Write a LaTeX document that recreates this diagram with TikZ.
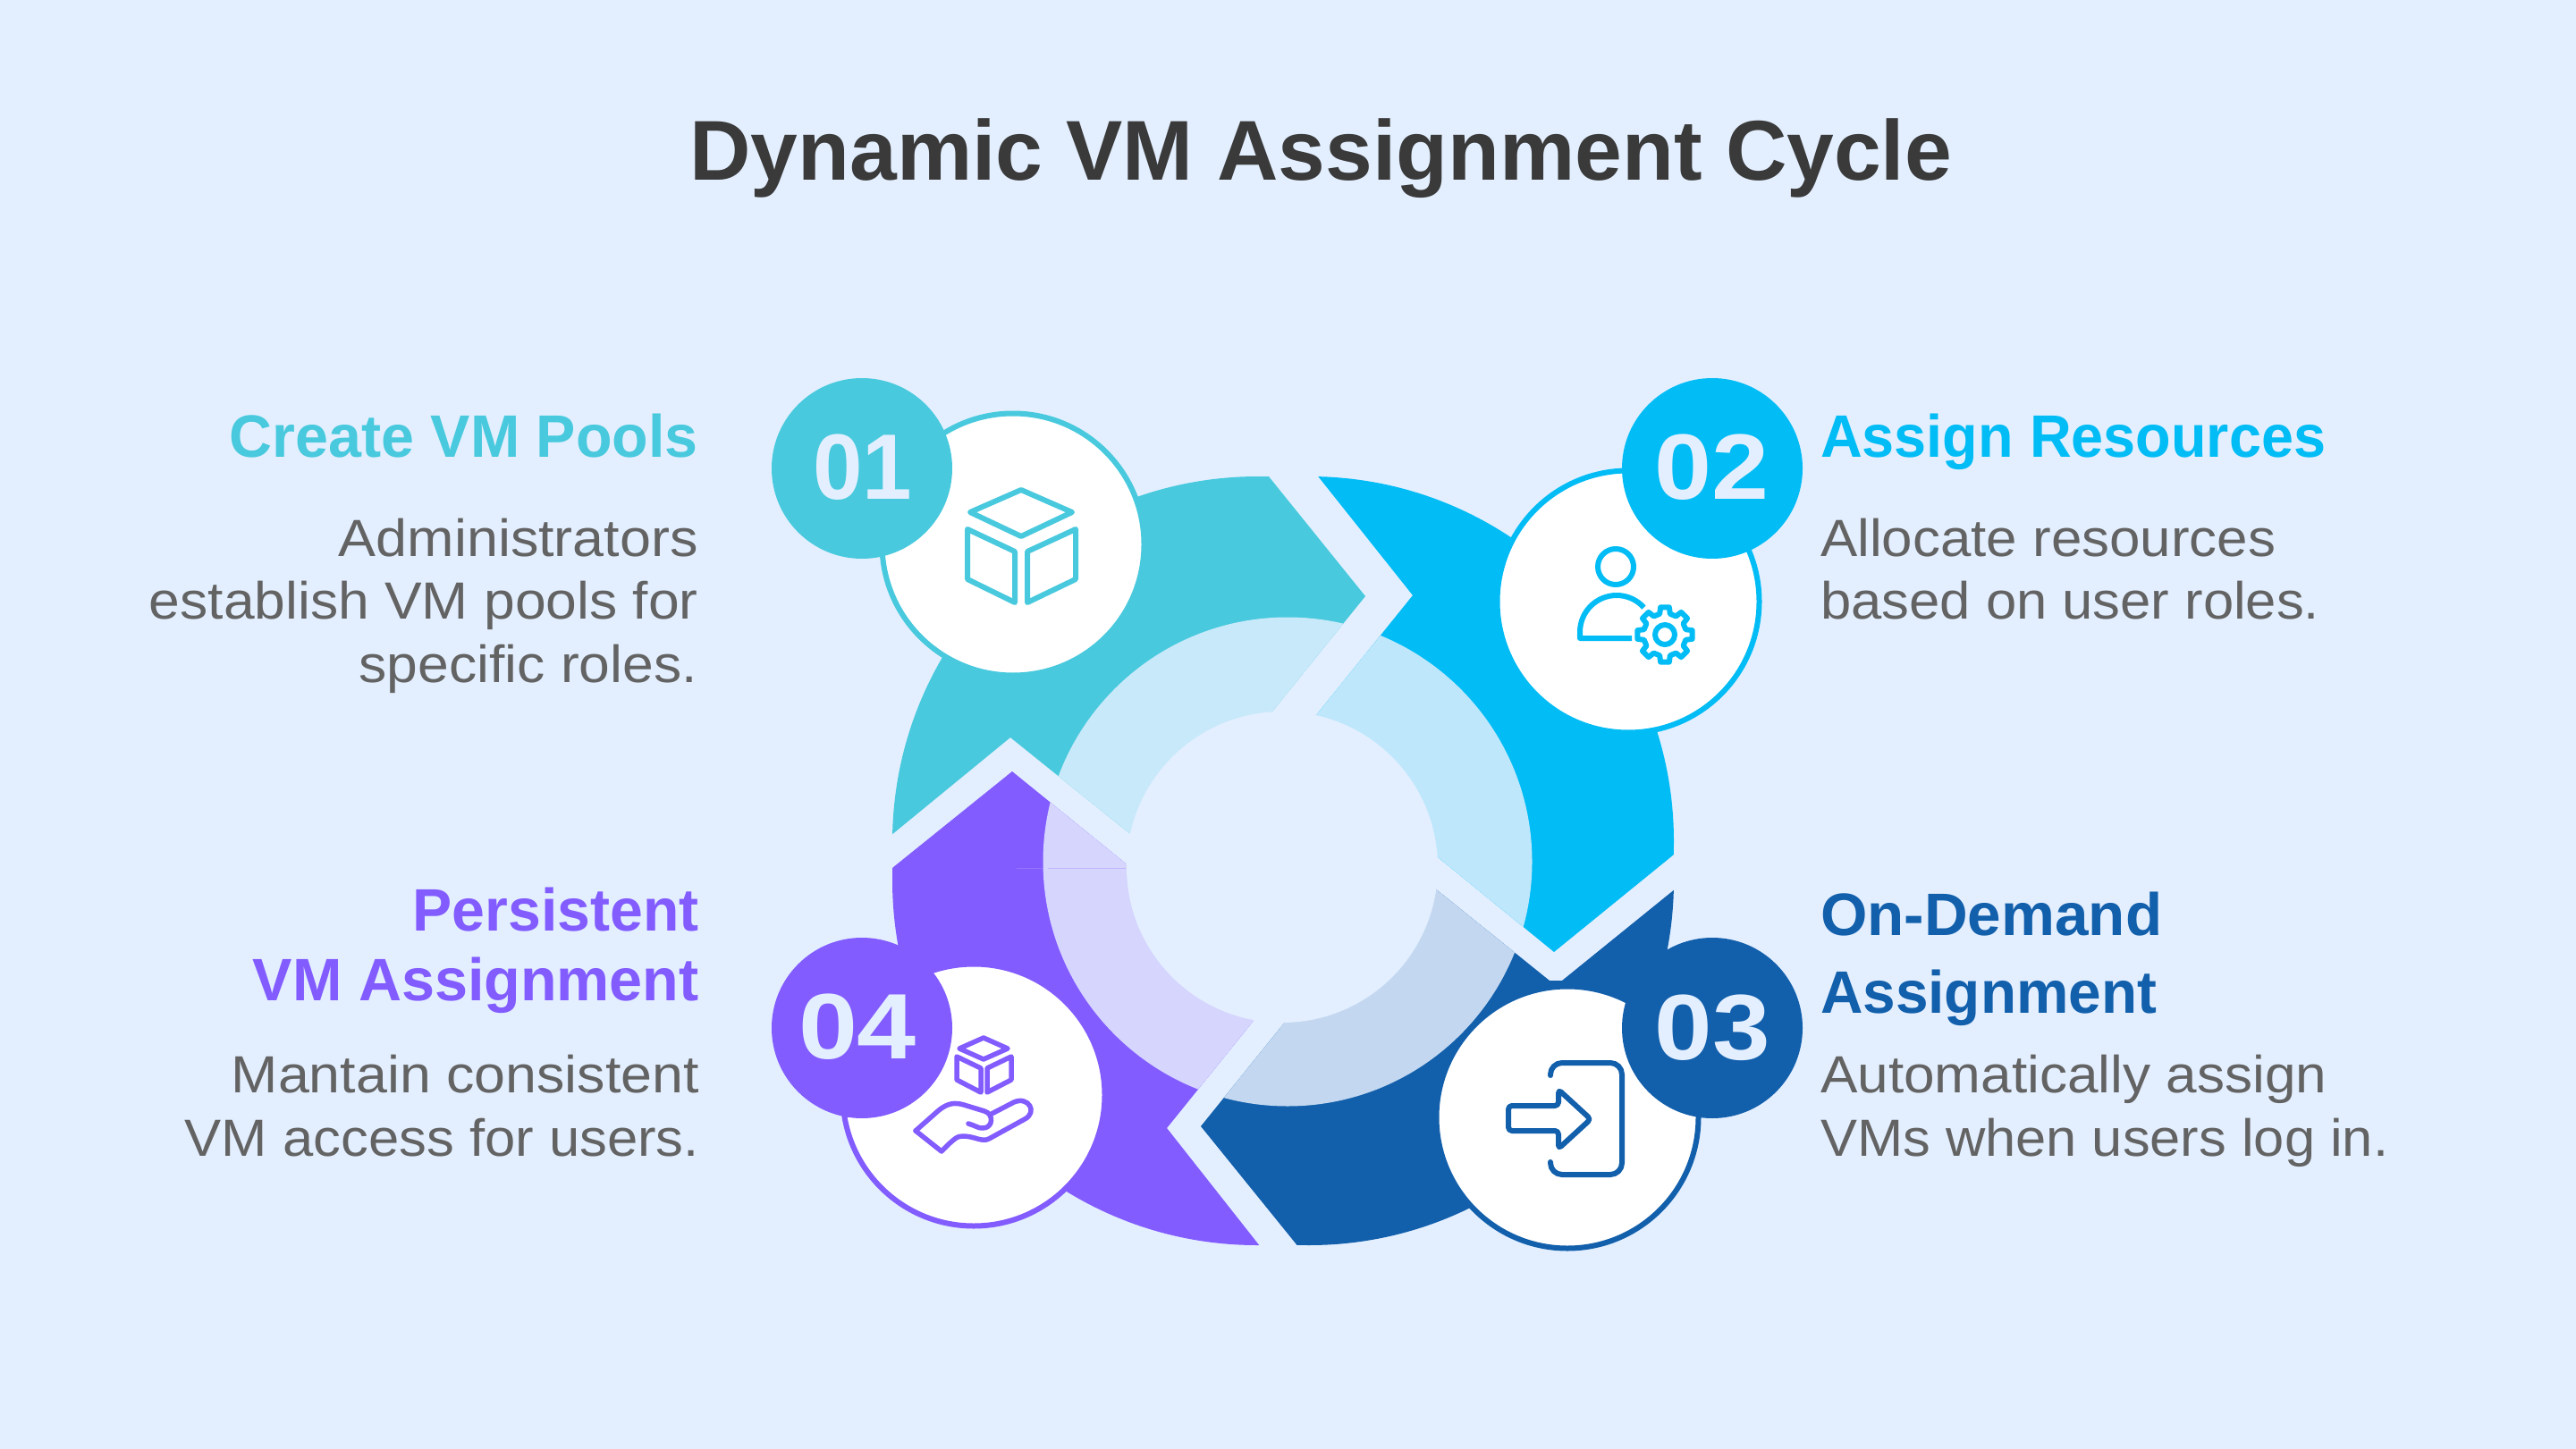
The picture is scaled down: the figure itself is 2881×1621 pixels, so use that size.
\documentclass[tikz,border=0pt]{standalone}
\usepackage{fontspec}
\usepackage{graphicx}
\setmainfont{Liberation Sans}
\definecolor{bgc}{HTML}{E3EFFF}
\definecolor{teal1}{HTML}{48C9DD}
\definecolor{teal2}{HTML}{C8E9FA}
\definecolor{blue1}{HTML}{02BCF5}
\definecolor{blue2}{HTML}{BEE7FC}
\definecolor{navy1}{HTML}{125FAB}
\definecolor{navy2}{HTML}{C3D8F0}
\definecolor{purp1}{HTML}{825CFF}
\definecolor{purp2}{HTML}{D5D5FE}
\definecolor{gtext}{HTML}{636363}
\definecolor{ttext}{HTML}{3A3A3A}
\newcommand{\fitw}[2]{\resizebox{#1pt}{\height}{#2}}
\tikzset{
  titlefont/.style={font=\fontsize{95}{95}\selectfont\bfseries,text=ttext,inner sep=0pt,anchor=base west},
  headE/.style={font=\fontsize{67}{67}\selectfont\bfseries,text=#1,inner sep=0pt,anchor=base east},
  headW/.style={font=\fontsize{67}{67}\selectfont\bfseries,text=#1,inner sep=0pt,anchor=base west},
  bodyE/.style={font=\fontsize{58.5}{58.5}\selectfont,text=gtext,inner sep=0pt,anchor=base east},
  bodyW/.style={font=\fontsize{58.5}{58.5}\selectfont,text=gtext,inner sep=0pt,anchor=base west},
  numtext/.style={font=\fontsize{104}{104}\selectfont\bfseries,text=bgc,inner sep=0pt,anchor=base},
  icon/.style={draw=#1,line width=6pt,line join=round,line cap=round},
  iconthin/.style={draw=#1,line width=5.5pt,line join=round,line cap=round},
  disc/.style={fill=white,draw=#1,line width=6pt},
}
\begin{document}
\begin{tikzpicture}[x=1pt,y=-1pt]
\useasboundingbox (0,0) rectangle (2881,1621);
\fill[bgc] (0,0) rectangle (2881,1621);

% teal segment
\begin{scope}
\clip (880,1030) -- (1130,825) -- (1263,932) -- (1434,960) -- (1422,797) -- (1527,667) -- (1310,398) -- (880,398) -- cycle;
\fill[teal1] (1407,942) circle[radius=409pt];
\fill[teal2] (1440,964) circle[radius=273.5pt];
\end{scope}
% blue segment
\begin{scope}
\clip (1370,402) -- (1580,666) -- (1472,800) -- (1434,960) -- (1607,958) -- (1738,1065) -- (1872,956) -- (2000,852) -- (2000,402) -- cycle;
\fill[blue1] (1464,941) circle[radius=408pt];
\fill[blue2] (1440,964) circle[radius=273.5pt];
\end{scope}
% navy segment
\begin{scope}
\clip (2000,892) -- (1747,1097) -- (1733,1097) -- (1605,994) -- (1434,980) -- (1435,1146) -- (1343,1260) -- (1500,1454) -- (2000,1454) -- cycle;
\fill[navy1] (1464,985) circle[radius=408pt];
\fill[navy2] (1440,964) circle[radius=273.5pt];
\end{scope}
% purple segment
\begin{scope}
\clip (1450,1446) -- (1305,1262) -- (1401,1143) -- (1434,980) -- (1259,966) -- (1132,863) -- (880,1066) -- (880,1446) -- cycle;
\fill[purp1] (1406,985) circle[radius=408pt];
\fill[purp2] (1440,964) circle[radius=273.5pt];
\end{scope}
\draw[purp1,opacity=.25,line width=1pt] (1172,971) -- (1259,971);
\draw[white,opacity=.15,line width=1pt] (1137,971) -- (1166,971);
% centre
\fill[bgc] (1434,970) circle[radius=174pt];

% white discs
\draw[disc=teal1] (1133,609) circle[radius=146.5pt];
\draw[disc=blue1] (1821,673) circle[radius=146.5pt];
\draw[disc=navy1] (1753,1250) circle[radius=146.5pt];
\draw[disc=purp1] (1089,1225) circle[radius=146.5pt];
% number badges
\fill[teal1] (964,524) circle[radius=101pt];
\fill[blue1] (1915,524) circle[radius=101pt];
\fill[navy1] (1915,1150) circle[radius=101pt];
\fill[purp1] (964,1150) circle[radius=101pt];
\node[numtext] (n1) at (965,558) {\fitw{111}{01}};
\node[numtext] (n2) at (1914,558) {\fitw{128}{02}};
\node[numtext] (n3) at (1915,1185) {\fitw{129}{03}};
\node[numtext] (n4) at (959,1184) {\fitw{132}{04}};

% icon 01: cube
\draw[icon=teal1] (1142,548) -- (1199,573) -- (1142,600) -- (1085,573) -- cycle;
\draw[icon=teal1] (1082,592) -- (1135,617) -- (1135,674) -- (1082,648) -- cycle;
\draw[icon=teal1] (1203,592) -- (1149,617) -- (1149,674) -- (1203,648) -- cycle;

% icon 02: person with gear
\draw[icon=blue1] (1807,634) circle[radius=20pt];
\draw[icon=blue1,line cap=butt] (1825,714) -- (1767,714) -- (1767,707) arc[start angle=180,end angle=42,radius=41pt];
\begin{scope}[shift={(1862,710)}]
\draw[icon=blue1] (0,0) circle[radius=11pt];
\draw[icon=blue1] (-14:24pt)
  \foreach \a in {0,45,...,315}{ -- (\a-14:24pt) -- (\a-9:31pt) -- (\a+9:31pt) -- (\a+14:24pt) } -- cycle;
\end{scope}

% icon 03: entry
\draw[icon=navy1,rounded corners=13pt] (1734,1203) -- (1734,1189) -- (1814,1189) -- (1814,1314) -- (1734,1314) -- (1734,1300);
\draw[icon=navy1,rounded corners=4pt] (1687,1237) -- (1743,1237) -- (1743,1219) -- (1779,1252) -- (1743,1285) -- (1743,1265) -- (1687,1265) -- cycle;

% icon 04: cube on hand
\draw[iconthin=purp1] (1100,1161) -- (1127,1173) -- (1100,1185) -- (1073,1173) -- cycle;
\draw[iconthin=purp1] (1070,1182) -- (1097,1195) -- (1097,1222) -- (1070,1208) -- cycle;
\draw[iconthin=purp1] (1131,1182) -- (1104,1195) -- (1104,1222) -- (1131,1208) -- cycle;
\draw[iconthin=purp1] (1024,1265) -- (1050,1242) .. controls (1060,1234) and (1068,1233) .. (1078,1236) -- (1101,1243) .. controls (1112,1246) and (1111,1263) .. (1098,1262) .. controls (1094,1262) and (1090,1259) .. (1083,1257);
\draw[iconthin=purp1] (1109,1246) -- (1134,1233) .. controls (1150,1226) and (1161,1244) .. (1146,1252) -- (1106,1274) .. controls (1098,1278) and (1090,1271) .. (1077,1271) .. controls (1070,1271) and (1068,1274) .. (1062,1279) -- (1053,1288) -- (1024,1265);

% title
\node[titlefont] (title) at (771,202) {\fitw{1412}{Dynamic VM Assignment Cycle}};

% top-left text
\node[headE=teal1] (h1) at (781,511) {\fitw{524}{Create VM Pools}};
\node[bodyE] (b1a) at (781,622) {\fitw{402}{Administrators}};
\node[bodyE] (b1b) at (781,692) {\fitw{614}{establish VM pools for}};
\node[bodyE] (b1c) at (780,763) {\fitw{378}{specific roles.}};

% top-right text
\node[headW=blue1] (h2) at (2036,511) {\fitw{565}{Assign Resources}};
\node[bodyW] (b2a) at (2036,622) {\fitw{509}{Allocate resources}};
\node[bodyW] (b2b) at (2036,692) {\fitw{558}{based on user roles.}};

% bottom-right text
\node[headW=navy1] (h3a) at (2036,1046) {\fitw{382}{On-Demand}};
\node[headW=navy1] (h3b) at (2036,1133) {\fitw{376}{Assignment}};
\node[bodyW] (b3a) at (2036,1222) {\fitw{566}{Automatically assign}};
\node[bodyW] (b3b) at (2036,1293) {\fitw{635}{VMs when users log in.}};

% bottom-left text
\node[headE=purp1] (h4a) at (782,1041) {\fitw{320}{Persistent}};
\node[headE=purp1] (h4b) at (782,1119) {\fitw{499}{VM Assignment}};
\node[bodyE] (b4a) at (782,1222) {\fitw{523}{Mantain consistent}};
\node[bodyE] (b4b) at (782,1293) {\fitw{575}{VM access for users.}};
\end{tikzpicture}
\end{document}
